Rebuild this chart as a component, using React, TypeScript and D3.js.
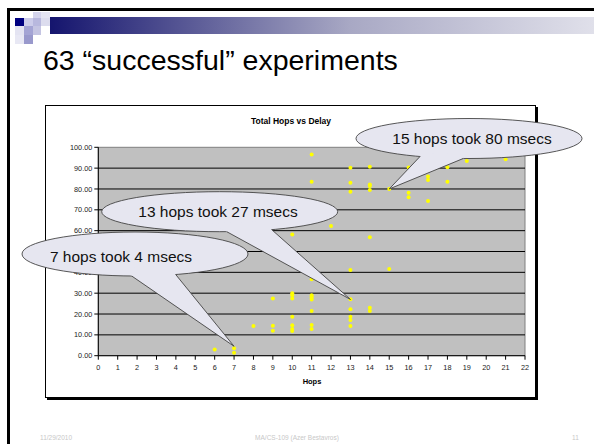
import React from "react";
import * as d3 from "d3";

const hops: number[] = [6, 7, 7, 8, 9, 9, 9, 10, 10, 10, 10, 10, 10, 10, 10, 11, 11, 11, 11, 11, 11, 11, 11, 11, 12, 13, 13, 13, 13, 13, 13, 13, 13, 13, 14, 14, 14, 14, 14, 14, 14, 15, 15, 16, 16, 16, 17, 17, 17, 18, 18, 19, 21];
const delays: number[] = [3, 3.6, 1.4, 14.2, 27.5, 14.4, 12, 58.2, 30, 29, 27.5, 18.7, 14.6, 12.8, 11.8, 96.6, 83.5, 36.7, 29, 28, 27, 21.4, 14.7, 12.8, 62.2, 90.2, 83, 78.7, 41.1, 27.1, 22.3, 18.7, 17.1, 14.3, 90.7, 82.2, 81.4, 79.5, 56.8, 23, 21.5, 80, 41.6, 90.3, 78.2, 76, 86, 84.3, 74.2, 90.4, 83.5, 93.4, 94.3];
const xTicks: number[] = d3.range(0, 23);
const yTicks: number[] = d3.range(0, 101, 10);
const calloutTexts: string[] = ["13 hops took 27 msecs", "7 hops took 4 msecs", "15 hops took 80 msecs"];
const calloutHops: number[] = [13, 7, 15];
const calloutDelays: number[] = [27, 4.5, 80];

const FONT = "'Liberation Sans', Arial, sans-serif";

export default function App() {
  const x = d3.scaleLinear().domain([0, 22]).range([98.3, 525]);
  const y = d3.scaleLinear().domain([0, 100]).range([355.7, 147.3]);

  const layouts = [
    { cx: 219.7, cy: 211.7, rx: 118, ry: 20, b1: 226.7, b2: 271.7, tx: 218, ty: 216.5 },
    { cx: 135, cy: 254, rx: 113, ry: 22, b1: 131.7, b2: 175.7, tx: 121, ty: 262 },
    { cx: 469, cy: 138.5, rx: 113, ry: 20, b1: 420, b2: 463.3, tx: 472, ty: 143.5 },
  ];

  const squares = [
    { x: 33, y: 12, w: 8, h: 6, c: "#d4d4ec" },
    { x: 41, y: 12, w: 9, h: 6, c: "#e4e4f2" },
    { x: 15, y: 18, w: 9, h: 8, c: "#000080" },
    { x: 24, y: 18, w: 9, h: 8, c: "#ccccea" },
    { x: 33, y: 18, w: 8, h: 8, c: "#b8b8de" },
    { x: 41, y: 18, w: 9, h: 8, c: "#dcdcee" },
    { x: 15, y: 26, w: 9, h: 9, c: "#e4e4f2" },
    { x: 24, y: 26, w: 9, h: 9, c: "#a4a4d4" },
    { x: 33, y: 26, w: 8, h: 9, c: "#c4c4e2" },
    { x: 24, y: 35, w: 9, h: 9, c: "#9999cc" },
    { x: 15, y: 35, w: 9, h: 9, c: "#e8e8f4" },
  ];

  return (
    <svg width={594} height={444} style={{ position: "absolute", left: 0, top: 0 }} fontFamily={FONT}>
      <defs>
        <linearGradient id="hdr" x1="0" x2="1" y1="0" y2="0">
          <stop offset="0" stopColor="#15156e" />
          <stop offset="0.55" stopColor="#a8a8c4" />
          <stop offset="1" stopColor="#e0e0ea" />
        </linearGradient>
      </defs>
      <rect x={0} y={0} width={594} height={444} fill="#fff" />
      <rect x={7} y={8} width={587} height={3} fill="#000" />
      <rect x={7} y={8} width={3} height={436} fill="#000" />
      <rect x={50} y={17} width={544} height={17} fill="url(#hdr)" />
      {squares.map((s, i) => (
        <rect key={i} x={s.x} y={s.y} width={s.w} height={s.h} fill={s.c} />
      ))}
      <text x={43} y={70} fontSize={28.5} fill="#000">63 “successful” experiments</text>

      <rect x={47} y={107} width={491} height={293} fill="#000" />
      <rect x={45.5} y={105.5} width={490} height={292} fill="#fff" stroke="#000" strokeWidth={1} />
      <text x={291} y={123.5} fontSize={8.5} fontWeight="bold" textAnchor="middle">Total Hops vs Delay</text>

      <rect x={x(0)} y={y(100)} width={x(22) - x(0)} height={y(0) - y(100)} fill="#c0c0c0" stroke="#808080" strokeWidth={1} />
      {yTicks.filter((t) => t > 0 && t < 100).map((t) => (
        <line key={t} x1={x(0)} x2={x(22)} y1={y(t)} y2={y(t)} stroke="#000" strokeWidth={1} />
      ))}
      <line x1={x(0)} x2={x(0)} y1={y(100)} y2={y(0)} stroke="#000" strokeWidth={1} />
      <line x1={x(0)} x2={x(22)} y1={y(0)} y2={y(0)} stroke="#000" strokeWidth={1} />
      {yTicks.map((t) => (
        <g key={t}>
          <line x1={x(0) - 4} x2={x(0)} y1={y(t)} y2={y(t)} stroke="#000" />
          <text x={x(0) - 6} y={y(t) + 2.6} fontSize={7.3} textAnchor="end" fill="#222">{t.toFixed(2)}</text>
        </g>
      ))}
      {xTicks.map((t) => (
        <g key={t}>
          <line x1={x(t)} x2={x(t)} y1={y(0)} y2={y(0) + 4} stroke="#000" />
          <text x={x(t)} y={370} fontSize={7.3} textAnchor="middle" fill="#222">{t}</text>
        </g>
      ))}
      <text x={312} y={383.5} fontSize={7.5} fontWeight="bold" textAnchor="middle">Hops</text>

      {hops.map((h, i) => (
        <circle key={i} cx={x(h)} cy={y(delays[i])} r={2} fill="#ffff00" />
      ))}

      {layouts.map((L, i) => {
        const tx = x(calloutHops[i]);
        const ty = y(calloutDelays[i]);
        const by = (bx: number) => L.cy + L.ry * Math.sqrt(Math.max(0, 1 - ((bx - L.cx) / L.rx) ** 2));
        const B1 = [L.b1, by(L.b1)];
        const B2 = [L.b2, by(L.b2)];
        const ext = (B: number[]) => [tx + (B[0] - tx) * 1.12, ty + (B[1] - ty) * 1.12];
        const E1 = ext(B1);
        const E2 = ext(B2);
        return (
          <g key={i}>
            <ellipse cx={L.cx} cy={L.cy} rx={L.rx} ry={L.ry} fill="#e6e6f0" stroke="#444" strokeWidth={0.9} />
            <polygon points={`${tx},${ty} ${E1[0]},${E1[1]} ${E2[0]},${E2[1]}`} fill="#e6e6f0" />
            <line x1={tx} y1={ty} x2={B1[0]} y2={B1[1]} stroke="#444" strokeWidth={0.9} />
            <line x1={tx} y1={ty} x2={B2[0]} y2={B2[1]} stroke="#444" strokeWidth={0.9} />
            <text x={L.tx} y={L.ty} fontSize={15.5} textAnchor="middle" fill="#111">{calloutTexts[i]}</text>
          </g>
        );
      })}

      <text x={40} y={440} fontSize={6.5} fill="#c8c8c8">11/29/2010</text>
      <text x={297} y={440} fontSize={6.5} fill="#c8c8c8" textAnchor="middle">MA/CS-109 (Azer Bestavros)</text>
      <text x={572} y={440} fontSize={6.5} fill="#c8c8c8">11</text>
    </svg>
  );
}
